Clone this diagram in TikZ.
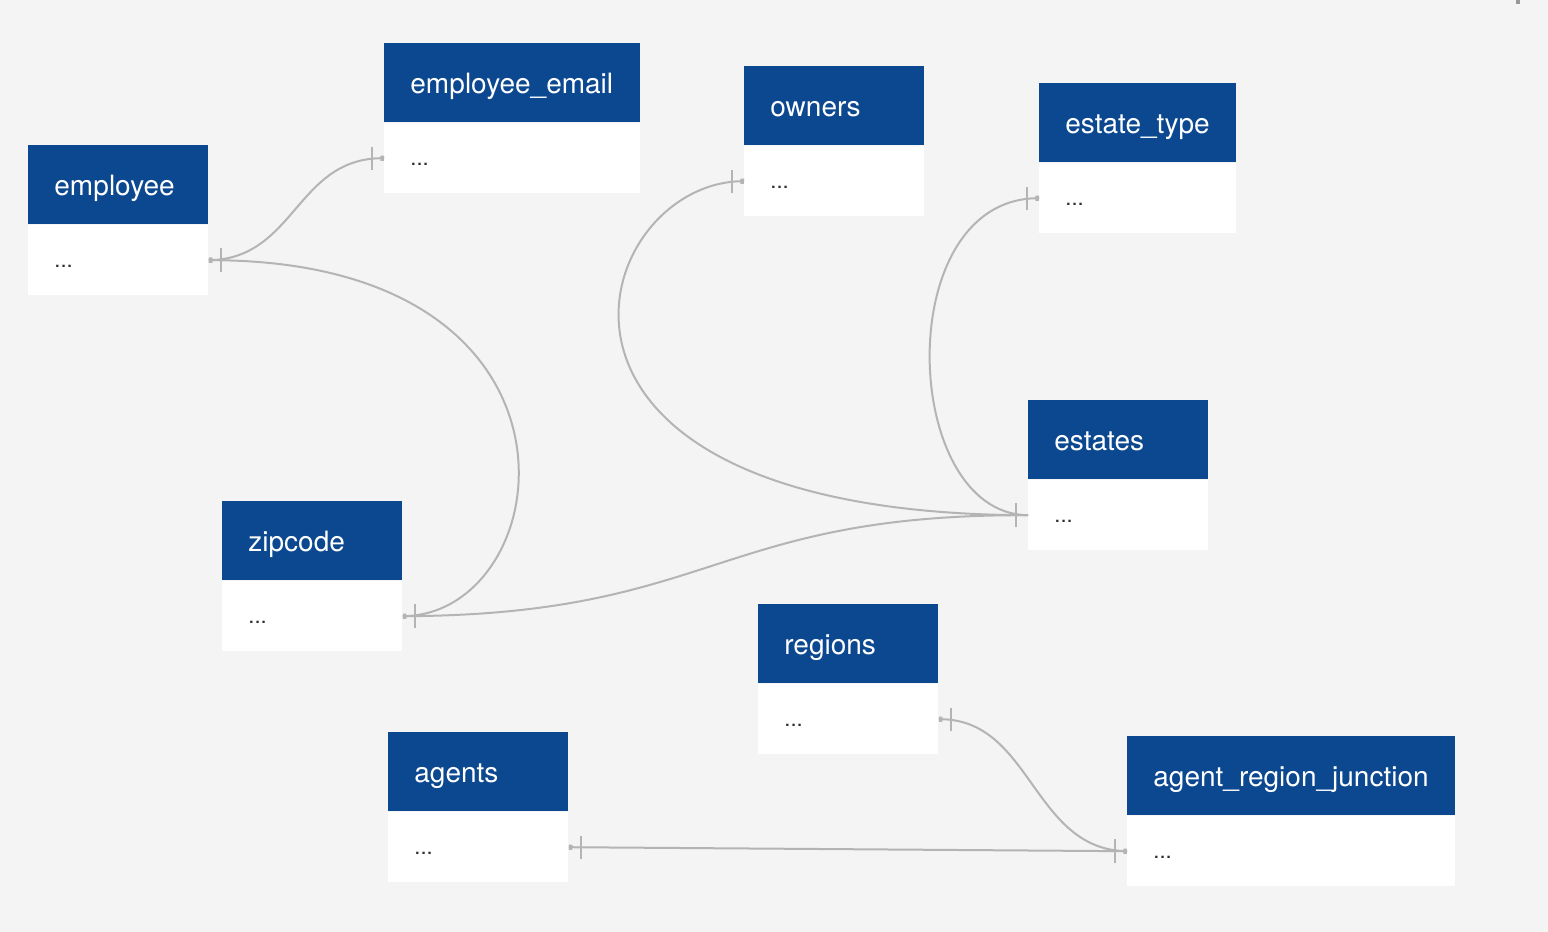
\documentclass[tikz,border=0pt]{standalone}
\usepackage{fontspec}
\setmainfont{TeX Gyre Heros}
\usetikzlibrary{decorations.markings}
\definecolor{bgcol}{RGB}{243,244,243}
\definecolor{hdblue}{RGB}{12,72,144}
\definecolor{lgrey}{RGB}{180,180,180}
\definecolor{dotcol}{RGB}{45,45,45}
\begin{document}
\begin{tikzpicture}[
    x=0.5pt,y=-0.5pt,
    tblhead/.style={fill=hdblue,draw=none,inner sep=0pt,minimum height=39.5pt,anchor=north west},
    tblbody/.style={fill=white,draw=none,inner sep=0pt,minimum height=35pt,anchor=north west},
    tbltitle/.style={text=white,inner sep=0pt,anchor=base west,font=\fontsize{14}{16}\selectfont},
    tbldots/.style={text=dotcol,inner sep=0pt,anchor=base west,font=\fontsize{11}{13}\selectfont},
    erlink/.style={draw=lgrey,line width=1pt,postaction={decorate,decoration={markings,
        mark=at position 0pt with {\fill[lgrey] (0,-1.3pt) rectangle (1.8pt,1.3pt);},
        mark=at position 6pt with {\pgftransformresetnontranslations
            \draw[lgrey,line width=1pt] (0,-5.75pt) -- (0,5.75pt);},
        mark=at position -6pt with {\pgftransformresetnontranslations
            \draw[lgrey,line width=1pt] (0,-5.75pt) -- (0,5.75pt);},
        mark=at position -0.01pt with {\fill[lgrey] (-1.8pt,-1.3pt) rectangle (0,1.3pt);}}}}]
    \fill[bgcol] (0,0) rectangle (1548,932);
    \fill[gray!80] (1516,0) rectangle (1520,4);
    % tables: name / left / top / width / title
    \foreach \tn/\tx/\ty/\tw/\ttl in {
        employee/28/145/180/employee,
        email/384/43/256/employee\_email,
        owners/744/66/180/owners,
        etype/1039/83/197/estate\_type,
        estates/1028/400/180/estates,
        zipcode/222/501/180/zipcode,
        regions/758/604/180/regions,
        agents/388/732/180/agents,
        junction/1127/736/328/agent\_region\_junction} {
        \node[tblhead,minimum width=\tw*0.5pt] (\tn-h) at (\tx,\ty) {};
        \node[tblbody,minimum width=\tw*0.5pt] (\tn) at (\tn-h.south west) {};
        \node[tbltitle] (\tn-t) at ([shift={(26,50)}]\tn-h.north west) {\ttl};
        \node[tbldots] (\tn-d) at ([shift={(26,43)}]\tn.north west) {...};
    }
    % relations
    \draw[erlink] (employee.east) .. controls (296,259) and (296,157) .. (email.west);
    \draw[erlink] (employee.east) .. controls (610,259) and (560,615) .. (zipcode.east);
    \draw[erlink] (zipcode.east) .. controls (715,615) and (715,514) .. (estates.west);
    \draw[erlink] (owners.west) .. controls (590,180) and (480,514) .. (estates.west);
    \draw[erlink] (etype.west) .. controls (890,197) and (900,514) .. (estates.west);
    \draw[erlink] (regions.east) .. controls (1032,718) and (1032,850) .. (junction.west);
    \draw[erlink] (agents.east) -- (junction.west);
\end{tikzpicture}
\end{document}
